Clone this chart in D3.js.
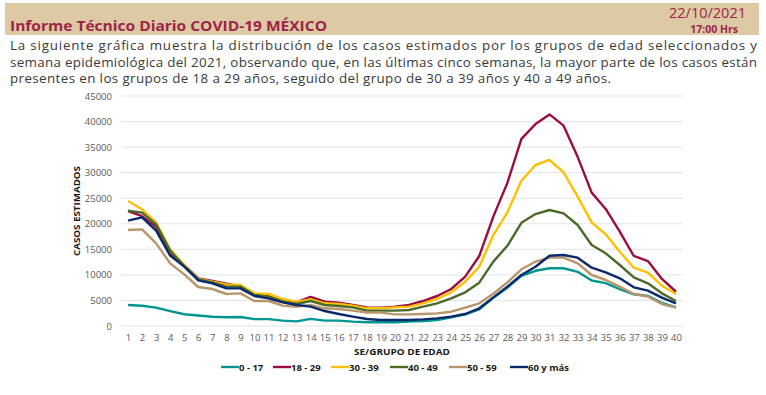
<!DOCTYPE html>
<html>
<head>
<meta charset="utf-8">
<title>Casos estimados por grupo de edad</title>
<script src="https://d3js.org/d3.v7.min.js"></script>
<style>
  body { margin: 0; background: #fff; }
  text { font-family: "Open Sans", "DejaVu Sans", sans-serif; }
</style>
</head>
<body>
<div id="chart"></div>
<script>

// semanas epidemiologicas (eje x)
var weeks = d3.range(1, 41);

// casos estimados por grupo de edad
var g0_17 = [4100,3950,3600,2900,2300,2050,1800,1700,1750,1350,1350,1050,900,1400,1050,1050,850,720,720,720,
             850,980,1170,1700,2280,3260,5500,7500,9800,10800,11300,11300,10600,8900,8400,7200,6200,5900,4500,3650];
var g18_29 = [22500,21500,19400,14000,11900,9300,8800,8300,7800,6200,5950,5100,4650,5700,4760,4570,4110,3650,3590,3790,
              4110,4890,5870,7240,9650,13700,21400,28000,36600,39500,41400,39200,33100,26100,22900,18450,13700,12700,9200,6700];
var g30_39 = [24460,22830,20220,15000,11930,9200,8670,8150,8020,6390,6260,5280,4760,5220,4440,4300,3980,3460,3460,3650,
              3790,4440,5280,6590,8670,11600,17800,22240,28430,31500,32480,30070,25300,20280,17940,14540,11400,10430,7890,6260];
var g40_49 = [22570,22170,19890,14740,11740,9130,8540,7700,7700,6070,5740,4760,4300,4890,4110,3910,3650,3000,3000,3000,
              3130,3790,4440,5410,6590,8470,12600,15700,20200,21900,22700,22050,19760,15850,14220,11930,9520,8350,6390,4890];
var g50_59 = [18780,18910,16170,12260,10110,7630,7240,6260,6390,4890,4890,3980,3780,4110,3460,3330,3000,2610,2610,2280,
              2280,2350,2480,2800,3590,4440,6300,8540,11090,12580,13370,13370,12270,9980,9000,7700,6260,5740,4300,3590];
var g60 = [20610,21260,18650,13760,11610,8930,8350,7370,7370,5870,5410,4630,4110,3780,2930,2350,1830,1370,1170,1170,
           1170,1300,1500,1830,2350,3460,5600,7700,9980,11600,13750,13900,13370,11400,10500,9330,7570,6910,5540,4440];

var groupNames = ["0 - 17", "18 - 29", "30 - 39", "40 - 49", "50 - 59", "60 y más"];
var groupColors = ["#00968f", "#9b0d3f", "#ffc000", "#4a6b2a", "#b8956a", "#0b2a6b"];
var yTicks = d3.range(0, 45001, 5000);

var series = [g0_17, g18_29, g30_39, g40_49, g50_59, g60].map(function(vals, i) {
  return { name: groupNames[i], color: groupColors[i], values: vals };
});

var width = 766, height = 395;
var plot = { left: 121, right: 683, top: 96, bottom: 326 };
var red = "#9d2449";

var svg = d3.select("#chart")
  .append("svg")
    .attr("width", width)
    .attr("height", height);

// encabezado
svg.append("rect")
  .attr("x", 5).attr("y", 3)
  .attr("width", 754).attr("height", 32)
  .attr("fill", "#ddc9a3");

svg.append("text")
  .attr("x", 10).attr("y", 31)
  .attr("font-size", 15).attr("font-weight", "bold")
  .attr("fill", red)
  .attr("textLength", 317).attr("lengthAdjust", "spacingAndGlyphs")
  .text("Informe Técnico Diario COVID-19 MÉXICO");

svg.append("text")
  .attr("x", 746).attr("y", 18)
  .attr("text-anchor", "end")
  .attr("font-size", 14.5)
  .attr("fill", red)
  .text("22/10/2021");

svg.append("text")
  .attr("x", 738).attr("y", 32.5)
  .attr("text-anchor", "end")
  .attr("font-size", 10.5).attr("font-weight", "bold")
  .attr("fill", red)
  .text("17:00 Hrs");

// parrafo
var lines = [
  { t: "La siguiente gráfica muestra la distribución de los casos estimados por los grupos de edad seleccionados y", w: 747 },
  { t: "semana epidemiológica del 2021, observando que, en las últimas cinco semanas, la mayor parte de los casos están", w: 747 },
  { t: "presentes en los grupos de 18 a 29 años, seguido del grupo de 30 a 39 años y 40 a 49 años.", w: 601 }
];
lines.forEach(function(l, i) {
  svg.append("text")
    .attr("x", 10).attr("y", 50 + i * 16.5)
    .attr("font-size", 13.4)
    .attr("fill", "#3a3a3a")
    .attr("textLength", l.w).attr("lengthAdjust", "spacing")
    .text(l.t);
});

// escalas
var x = d3.scalePoint()
  .domain(weeks)
  .range([plot.left, plot.right])
  .padding(0.5);

var y = d3.scaleLinear()
  .domain([0, 45000])
  .range([plot.bottom, plot.top]);

// rejilla
svg.append("g")
  .selectAll("line")
  .data(yTicks)
  .enter().append("line")
    .attr("x1", plot.left).attr("x2", plot.right)
    .attr("y1", function(d) { return y(d); })
    .attr("y2", function(d) { return y(d); })
    .attr("stroke", "#e3e3e3")
    .attr("stroke-width", 1);

// eje y
var yAxis = svg.append("g")
  .attr("transform", "translate(" + (plot.left - 9) + ",0)")
  .call(d3.axisLeft(y).tickValues(yTicks).tickSize(0).tickPadding(0).tickFormat(d3.format("d")));
yAxis.select(".domain").remove();
yAxis.selectAll("text")
  .attr("font-size", 9.5)
  .attr("fill", "#595959")
  .style("font-family", "\"Open Sans\", sans-serif");

// eje x
var xAxis = svg.append("g")
  .attr("transform", "translate(0," + (plot.bottom + 8) + ")")
  .call(d3.axisBottom(x).tickSize(0).tickPadding(0));
xAxis.select(".domain").remove();
xAxis.selectAll("text")
  .attr("font-size", 9.5)
  .attr("fill", "#595959")
  .style("font-family", "\"Open Sans\", sans-serif");

// titulos de ejes
svg.append("text")
  .attr("transform", "translate(80," + ((plot.top + plot.bottom) / 2) + ") rotate(-90)")
  .attr("text-anchor", "middle")
  .attr("font-size", 9.5).attr("font-weight", "bold")
  .attr("fill", "#1a1a1a")
  .attr("textLength", 90).attr("lengthAdjust", "spacingAndGlyphs")
  .text("CASOS ESTIMADOS");

svg.append("text")
  .attr("x", (plot.left + plot.right) / 2).attr("y", 355)
  .attr("text-anchor", "middle")
  .attr("font-size", 9.5).attr("font-weight", "bold")
  .attr("fill", "#1a1a1a")
  .attr("textLength", 96).attr("lengthAdjust", "spacingAndGlyphs")
  .text("SE/GRUPO DE EDAD");

// lineas
var line = d3.line()
  .x(function(d, i) { return x(weeks[i]); })
  .y(function(d) { return y(d); });

svg.append("g")
  .selectAll("path")
  .data(series)
  .enter().append("path")
    .attr("fill", "none")
    .attr("stroke", function(d) { return d.color; })
    .attr("stroke-width", 2.4)
    .attr("stroke-linejoin", "round")
    .attr("d", function(d) { return line(d.values); });

// leyenda
var legendX = [221, 273, 331, 390, 449, 510];
var legend = svg.append("g")
  .selectAll("g")
  .data(series)
  .enter().append("g")
    .attr("transform", function(d, i) { return "translate(" + legendX[i] + ",367)"; });

legend.append("line")
  .attr("x1", 0).attr("x2", 18)
  .attr("stroke", function(d) { return d.color; })
  .attr("stroke-width", 2.4);

legend.append("text")
  .attr("x", 18).attr("y", 3.5)
  .attr("font-size", 9.5).attr("font-weight", "bold")
  .attr("fill", "#1a1a1a")
  .text(function(d) { return d.name; });

</script>
</body>
</html>
